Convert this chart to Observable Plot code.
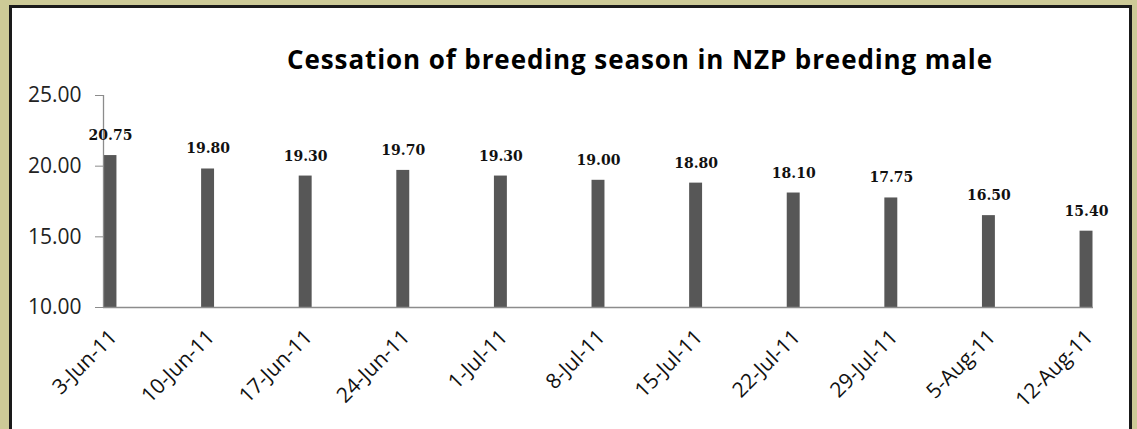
<!DOCTYPE html>
<html>
<head>
<meta charset="utf-8">
<script src="https://cdn.jsdelivr.net/npm/d3@7"></script>
<script src="https://cdn.jsdelivr.net/npm/@observablehq/plot@0.6"></script>
<style>
  html, body { margin: 0; padding: 0; }
  body { width: 1137px; height: 429px; background: #cdca97; position: relative; overflow: hidden; }
  #panel { position: absolute; left: 9px; top: 5px; width: 1123px; height: 430px; background: #fff;
           border-left: 3px solid #1a1a1a; border-top: 3px solid #1a1a1a; border-right: 3px solid #1a1a1a; box-sizing: border-box; }
  #title { position: absolute; left: 0; width: 1137px; top: 41px; text-align: center; padding-left: 143px; box-sizing: border-box;
           font-family: "Open Sans", sans-serif; font-weight: bold; font-size: 26px; letter-spacing: 0.9px; color: #000; white-space: nowrap; }
  #chart { position: absolute; left: 0; top: 0; }
</style>
</head>
<body>
<div id="panel"></div>
<div id="chart"></div>
<div id="title">Cessation of breeding season in NZP breeding male</div>
<script>
const dates = ["2011-06-03","2011-06-10","2011-06-17","2011-06-24","2011-07-01","2011-07-08","2011-07-15","2011-07-22","2011-07-29","2011-08-05","2011-08-12"];
const labels = ["3-Jun-11","10-Jun-11","17-Jun-11","24-Jun-11","1-Jul-11","8-Jul-11","15-Jul-11","22-Jul-11","29-Jul-11","5-Aug-11","12-Aug-11"];
const values = [20.75, 19.80, 19.30, 19.70, 19.30, 19.00, 18.80, 18.10, 17.75, 16.50, 15.40];
const yTicks = [10, 15, 20, 25];

const DAY = 864e5;
const data = dates.map((d, i) => {
  const t = new Date(d + "T00:00:00Z");
  return { start: t, end: new Date(+t + DAY), mid: new Date(+t + DAY / 2), label: labels[i], value: values[i] };
});
const x0 = data[0].start, x1 = data[data.length - 1].end;

const chart = Plot.plot({
  width: 1137,
  height: 429,
  marginLeft: 103,
  marginRight: 44,
  marginTop: 95,
  marginBottom: 122,
  style: { background: "transparent", overflow: "visible" },
  x: { type: "utc", domain: [x0, x1], axis: null },
  y: { domain: [10, 25], axis: null },
  marks: [
    Plot.rectY(data, { x1: "start", x2: "end", y1: 10, y2: "value", fill: "#575757", insetLeft: 0.5, insetRight: 0.5 }),
    Plot.ruleY([10], { x1: x0, x2: x1, stroke: "#8c8c8c", strokeWidth: 1.3 }),
    Plot.ruleX([x0], { y1: 10, y2: 25, stroke: "#8c8c8c", strokeWidth: 1.3 }),
    Plot.axisY({ ticks: yTicks, tickFormat: d => d.toFixed(2), tickSize: 8, tickPadding: 14, stroke: "#8c8c8c", label: null,
                 fontSize: 21, fontFamily: "Open Sans, sans-serif", color: "#222" }),
    Plot.text(data, { x: "mid", y: 10, text: "label", rotate: -45, textAnchor: "end", dx: 3, dy: 26,
                      fontSize: 21, fontFamily: "Open Sans, sans-serif", fill: "#111", lineAnchor: "middle" }),
    Plot.text(data, { x: "mid", y: "value", text: d => d.value.toFixed(2), dy: -20,
                      fontSize: 14, fontWeight: "bold", fontFamily: "DejaVu Serif, serif", fill: "#111" })
  ]
});
document.getElementById("chart").appendChild(chart);
</script>
</body>
</html>
